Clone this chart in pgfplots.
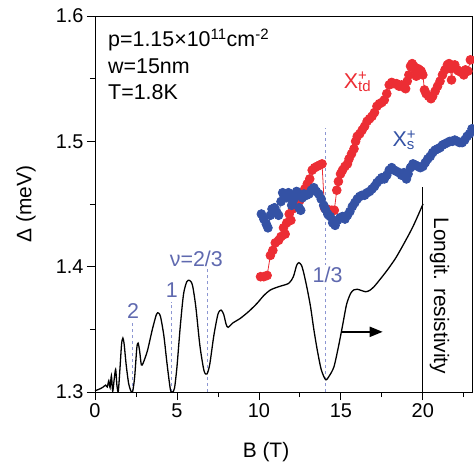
\documentclass[border=0pt]{standalone}
\usepackage{pgfplots}
\pgfplotsset{compat=1.18}
\usepackage{fontspec}
\setmainfont{Liberation Sans}
\usetikzlibrary{arrows.meta}
\definecolor{tdred}{RGB}{236,45,52}
\definecolor{sblue}{RGB}{52,82,165}
\definecolor{guide}{RGB}{140,150,210}
\definecolor{guidetxt}{RGB}{95,105,175}

\begin{document}
\begin{tikzpicture}
\begin{axis}[
    width=377bp, height=376bp, scale only axis,
    xmin=0, xmax=23, ymin=1.3, ymax=1.6,
    xtick={0,5,...,20}, minor xtick={2.5,7.5,...,22.5},
    ytick={1.3,1.4,1.5,1.6}, minor ytick={1.35,1.45,1.55},
    tick align=outside, xtick pos=bottom, ytick pos=left,
    major tick length=8bp, minor tick length=5bp,
    tick style={black, line width=0.8pt},
    axis line style={line width=0.8pt},
    ticklabel style={font=\fontsize{20}{24}\selectfont},
    /pgf/number format/assume math mode=true,
    yticklabel style={/pgf/number format/.cd,fixed,fixed zerofill,precision=1},
    label style={font=\fontsize{21}{25}\selectfont},
    xlabel={B (T)},
    xlabel style={at={(axis description cs:0.4536,-0.1588)},anchor=center},
    ylabel={Δ (meV)},
    ylabel style={at={(axis description cs:-0.183,0.5)},anchor=center},
]
% guide lines
\draw[guide, dashed, line width=0.8pt] (axis cs:2.28,1.3) -- (axis cs:2.28,1.3553);
\draw[guide, dashed, line width=0.8pt] (axis cs:4.69,1.3) -- (axis cs:4.69,1.372);
\draw[guide, dashed, line width=0.8pt] (axis cs:6.87,1.3) -- (axis cs:6.87,1.399);
\draw[guide, dashed, line width=0.8pt] (axis cs:14.07,1.3) -- (axis cs:14.07,1.511);

% longitudinal resistivity
\addplot[black, line width=1.3pt, smooth, tension=0.45] coordinates {
(0,1.301) (0.3,1.3025) (0.5,1.304) (0.65,1.3055) (0.75,1.304) (0.84,1.309)
(0.92,1.3035) (1.0,1.313) (1.08,1.3005) (1.17,1.310) (1.26,1.318) (1.34,1.305)
(1.42,1.3005) (1.52,1.318) (1.62,1.338) (1.70,1.343) (1.78,1.338) (1.90,1.322)
(2.05,1.307) (2.2,1.3005) (2.3,1.3005) (2.42,1.312) (2.55,1.335) (2.63,1.339)
(2.72,1.333) (2.83,1.3215) (2.95,1.3235) (3.2,1.333) (3.5,1.350) (3.75,1.362)
(3.88,1.363) (4.0,1.360) (4.2,1.345) (4.4,1.322) (4.6,1.302) (4.72,1.300)
(4.85,1.303) (5.0,1.320) (5.2,1.352) (5.4,1.378) (5.6,1.388) (5.78,1.389)
(5.95,1.385) (6.15,1.368) (6.4,1.337) (6.65,1.317) (6.83,1.3144) (7.0,1.322)
(7.25,1.345) (7.5,1.362) (7.69,1.3654) (7.85,1.362) (8.0,1.354) (8.12,1.3516)
(8.4,1.355) (8.87,1.3588) (9.4,1.3645) (9.89,1.3708) (10.3,1.377) (10.7,1.3814)
(11.2,1.384) (11.82,1.3867) (12.1,1.392) (12.3,1.401) (12.44,1.4032) (12.6,1.401)
(12.74,1.3947) (12.95,1.382) (13.15,1.368) (13.35,1.350) (13.56,1.3335) (13.8,1.318)
(14.07,1.3098) (14.3,1.313) (14.58,1.3202) (14.85,1.336) (15.09,1.3521) (15.35,1.370)
(15.6,1.3788) (15.8,1.3815) (16.0,1.382) (16.25,1.381) (16.51,1.380) (16.75,1.381)
(17.02,1.384) (17.4,1.390) (17.84,1.3974) (18.35,1.407) (18.86,1.4187) (19.4,1.432)
(19.98,1.449) (20.0,1.4495)
};
\draw[black, line width=0.8pt] (axis cs:20,1.3) -- (axis cs:20,1.4638);
\draw[black, line width=2pt, -{Triangle[length=13bp,width=10bp]}] (axis cs:15.09,1.348) -- (axis cs:17.55,1.348);

% X_td+
\addplot[tdred, line width=0.8pt, mark=*, mark size=4.4bp, mark options={fill=tdred, draw=tdred}] coordinates {
(10.1,1.392) (10.3,1.392) (10.5,1.393) (10.7,1.409) (10.85,1.413) (11.0,1.419)
(11.2,1.421) (11.35,1.424) (11.5,1.431) (11.6,1.426) (11.7,1.435) (11.85,1.442)
(11.95,1.437) (12.05,1.446) (12.2,1.449) (12.35,1.451) (12.5,1.453) (12.65,1.458)
(12.8,1.462) (12.95,1.466) (13.1,1.470) (13.25,1.477) (13.4,1.479) (13.55,1.480)
(13.7,1.481) (13.85,1.482) (14.0,1.447) (14.15,1.446) (14.3,1.444) (14.45,1.445)
(14.6,1.445) (14.75,1.461) (14.85,1.468) (14.98,1.474) (15.1,1.477) (15.25,1.480)
(15.4,1.482) (15.5,1.486) (15.65,1.490) (15.8,1.494) (15.9,1.500) (16.0,1.504)
(16.15,1.506) (16.3,1.509) (16.45,1.512) (16.6,1.516) (16.75,1.518) (16.9,1.520)
(17.05,1.523) (17.2,1.528) (17.35,1.530) (17.5,1.531) (17.65,1.533) (17.8,1.538)
(17.95,1.545) (18.1,1.547) (18.25,1.546) (18.4,1.546) (18.55,1.544) (18.7,1.545)
(18.85,1.543) (18.95,1.542) (19.05,1.548) (19.15,1.553) (19.25,1.560) (19.35,1.562)
(19.45,1.560) (19.55,1.557) (19.6,1.552) (19.7,1.558) (19.8,1.557) (19.9,1.556)
(20.0,1.553) (20.1,1.541) (20.2,1.538) (20.35,1.536) (20.5,1.534) (20.6,1.536)
(20.75,1.540) (20.9,1.544) (21.05,1.548) (21.2,1.553) (21.35,1.557) (21.5,1.561)
(21.6,1.562) (21.7,1.558) (21.75,1.549) (21.85,1.560) (21.95,1.561) (22.1,1.557)
(22.2,1.556) (22.35,1.555) (22.5,1.553) (22.6,1.557) (22.75,1.556) (22.9,1.565)
(23.05,1.563)
};

% X_s+
\addplot[sblue, line width=0.8pt, mark=*, mark size=4.4bp, mark options={fill=sblue, draw=sblue}] coordinates {
(10.15,1.442) (10.3,1.438) (10.45,1.434) (10.55,1.431) (10.7,1.441) (10.8,1.446)
(10.95,1.447) (11.1,1.443) (11.2,1.441) (11.35,1.452) (11.45,1.459) (11.55,1.456)
(11.7,1.455) (11.8,1.459) (11.9,1.457) (12.0,1.449) (12.1,1.453) (12.2,1.456)
(12.3,1.460) (12.45,1.447) (12.55,1.445) (12.65,1.455) (12.75,1.458) (12.9,1.457)
(13.05,1.458) (13.2,1.461) (13.35,1.463) (13.5,1.460) (13.65,1.458) (13.8,1.454)
(13.95,1.449) (14.05,1.446) (14.2,1.442) (14.35,1.440) (14.5,1.435) (14.65,1.433)
(14.8,1.437) (14.95,1.439) (15.1,1.440) (15.25,1.438) (15.4,1.441) (15.55,1.444)
(15.7,1.448) (15.85,1.451) (16.0,1.454) (16.15,1.456) (16.3,1.457) (16.45,1.457)
(16.6,1.459) (16.75,1.460) (16.9,1.462) (17.05,1.464) (17.2,1.467) (17.35,1.469)
(17.5,1.471) (17.65,1.470) (17.8,1.473) (17.95,1.477) (18.1,1.479) (18.25,1.477)
(18.4,1.476) (18.55,1.475) (18.7,1.473) (18.85,1.475) (19.0,1.470) (19.1,1.474)
(19.25,1.479) (19.4,1.482) (19.55,1.481) (19.7,1.480) (19.85,1.479) (20.0,1.480)
(20.15,1.483) (20.3,1.486) (20.45,1.488) (20.6,1.491) (20.75,1.493) (20.9,1.494)
(21.05,1.495) (21.2,1.497) (21.35,1.498) (21.5,1.499) (21.65,1.500) (21.8,1.500)
(21.95,1.501) (22.1,1.500) (22.25,1.499) (22.4,1.499) (22.55,1.501) (22.7,1.504)
(22.85,1.506) (23.0,1.510)
};

% labels
\node[guidetxt, anchor=base, font=\fontsize{21.5}{25}\selectfont] at (axis cs:2.32,1.3587) {2};
\node[guidetxt, anchor=base, font=\fontsize{21.5}{25}\selectfont] at (axis cs:4.69,1.3754) {1};
\node[guidetxt, anchor=base, font=\fontsize{21.5}{25}\selectfont] at (axis cs:6.18,1.4002) {ν=2/3};
\node[guidetxt, anchor=base, fill=white, inner sep=2bp, font=\fontsize{21.5}{25}\selectfont] at (axis cs:14.19,1.3874) {1/3};
\node[tdred, anchor=base west, inner sep=0pt, font=\fontsize{21.5}{25}\selectfont] at (axis cs:15.17,1.5424) {X\rlap{\textsuperscript{+}}\textsubscript{td}};
\node[sblue, anchor=base west, inner sep=0pt, font=\fontsize{21.5}{25}\selectfont] at (axis cs:18.15,1.4958) {X\rlap{\textsuperscript{+}}\textsubscript{s}};
\node[rotate=-90, font=\fontsize{21}{25}\selectfont] at (axis cs:21.02,1.3766) {Longit. resistivity};
\node[anchor=base west, inner sep=0pt, font=\fontsize{21.5}{25}\selectfont] at (axis description cs:0.0345,0.9184) {p=1.15×10\textsuperscript{11}cm\textsuperscript{-2}};
\node[anchor=base west, inner sep=0pt, font=\fontsize{21.5}{25}\selectfont] at (axis description cs:0.0345,0.8476) {w=15nm};
\node[anchor=base west, inner sep=0pt, font=\fontsize{21.5}{25}\selectfont] at (axis description cs:0.0345,0.7785) {T=1.8K};
\end{axis}
\pgfresetboundingbox
\useasboundingbox (-95bp,-73bp) rectangle (379bp,392bp);
\end{tikzpicture}
\end{document}
